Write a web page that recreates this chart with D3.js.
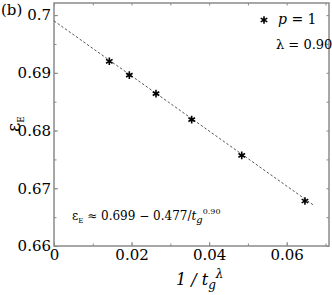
<!DOCTYPE html>
<html lang="en">
<head>
    <meta charset="UTF-8">
    <title>Fit of epsilon_E</title>
    <script src="https://cdnjs.cloudflare.com/ajax/libs/d3/7.8.0/d3.min.js"></script>
    <style>
        body { margin: 0; background: #fff; }
        #viz text { font-family: 'DejaVu Serif', 'Liberation Serif', serif !important; fill: #000; }
    </style>
</head>
<body>
    <svg id="viz" width="332" height="295"></svg>

    <script>
        // data
        const xVals = [0.01426, 0.01942, 0.0263, 0.0355, 0.0484, 0.0647];
        const yVals = [0.6920, 0.6896, 0.6864, 0.6819, 0.6757, 0.6678];
        const fitA = 0.699, fitB = 0.477;
        const xTicks = [0, 0.02, 0.04, 0.06];
        const xTickLabels = ["0", "0.02", "0.04", "0.06"];
        const yTicks = [0.66, 0.67, 0.68, 0.69, 0.7];
        const yTickLabels = ["0.66", "0.67", "0.68", "0.69", "0.7"];

        const serif = "'DejaVu Serif', 'Liberation Serif', serif";
        const margin = {top: 3, right: 3, bottom: 49, left: 54};
        const W = 332, H = 295;
        const w = W - margin.left - margin.right;
        const h = H - margin.top - margin.bottom;

        const svg = d3.select('#viz').attr('font-family', serif);
        const g = svg.append('g').attr('transform', `translate(${margin.left},${margin.top})`);

        const x = d3.scaleLinear().domain([0, 0.0709]).range([0, w]);
        const y = d3.scaleLinear().domain([0.66, 0.7021]).range([h, 0]);

        const axisCol = "#8a8a8a";
        const minorX = d3.range(0, 0.0705, 0.01);
        const minorY = d3.range(0.66, 0.702, 0.005);

        // ticks pointing inward on all four sides
        function drawAxis(axis, tf) {
            const a = g.append('g').attr('transform', tf).call(axis);
            a.attr('font-family', serif);
            a.select('.domain').remove();
            a.selectAll('line').attr('stroke', axisCol).attr('stroke-width', 1);
            return a;
        }
        drawAxis(d3.axisBottom(x).tickValues(minorX).tickSize(-2.5).tickFormat(''), `translate(0,${h})`);
        drawAxis(d3.axisTop(x).tickValues(minorX).tickSize(-2.5).tickFormat(''), 'translate(0,0)');
        drawAxis(d3.axisLeft(y).tickValues(minorY).tickSize(-2.5).tickFormat(''), 'translate(0,0)');
        drawAxis(d3.axisRight(y).tickValues(minorY).tickSize(-2.5).tickFormat(''), `translate(${w},0)`);

        const xb = drawAxis(d3.axisBottom(x).tickValues(xTicks).tickSize(-4)
            .tickPadding(3).tickFormat((d, i) => xTickLabels[i]), `translate(0,${h})`);
        xb.selectAll('text').attr('font-size', 15).attr('fill', '#000');
        const yl = drawAxis(d3.axisLeft(y).tickValues(yTicks).tickSize(-4)
            .tickPadding(3).tickFormat((d, i) => yTickLabels[i]), 'translate(0,0)');
        yl.selectAll('text').attr('font-size', 15).attr('fill', '#000');

        // frame
        g.append('rect').attr('width', w).attr('height', h)
            .attr('fill', 'none').attr('stroke', axisCol).attr('stroke-width', 1.5);

        // fit line
        const fitX = [0, 0.067];
        g.append('path')
            .datum(fitX)
            .attr('d', d3.line().x(d => x(d)).y(d => y(fitA - fitB * d)))
            .attr('fill', 'none')
            .attr('stroke', '#555')
            .attr('stroke-width', 1)
            .attr('stroke-dasharray', '2.5,2');

        // star markers
        const star = d3.symbol().type(d3.symbolAsterisk).size(40);
        g.selectAll('.pt')
            .data(xVals)
            .join('path')
            .attr('class', 'pt')
            .attr('transform', (d, i) => `translate(${x(d)},${y(yVals[i])})`)
            .attr('d', star)
            .attr('fill', 'none')
            .attr('stroke', '#000')
            .attr('stroke-width', 1.6);

        // legend
        svg.append('path')
            .attr('transform', 'translate(264,20)')
            .attr('d', star)
            .attr('fill', 'none').attr('stroke', '#000').attr('stroke-width', 1.6);
        svg.append('text').attr('x', 278).attr('y', 24).attr('font-size', 14)
            .html('<tspan font-style="italic">p</tspan> = 1');
        svg.append('text').attr('x', 276).attr('y', 49).attr('font-size', 13)
            .text('λ = 0.90');

        // formula
        svg.append('text').attr('x', 72).attr('y', 220).attr('font-size', 12)
            .html('ε<tspan font-size="7" dy="3">E</tspan><tspan dy="-3"> ≈ 0.699 − 0.477/</tspan><tspan font-style="italic">t</tspan><tspan font-style="italic" font-size="10" dy="3">g</tspan><tspan font-size="8" dy="-9">0.90</tspan>');

        // panel label
        svg.append('text').attr('x', 1).attr('y', 15).attr('font-size', 15).text('(b)');

        // axis titles
        svg.append('text')
            .attr('transform', 'translate(20,124) rotate(-90)')
            .attr('text-anchor', 'middle')
            .attr('font-size', 18)
            .html('ε<tspan font-size="9" dy="4">E</tspan>');

        svg.append('text').attr('x', 176).attr('y', 285).attr('font-size', 16)
            .html('<tspan font-style="italic">1 / t</tspan><tspan font-style="italic" font-size="12" dy="4">g</tspan><tspan font-style="italic" font-size="12" dy="-11">λ</tspan>');
    </script>
</body>
</html>
